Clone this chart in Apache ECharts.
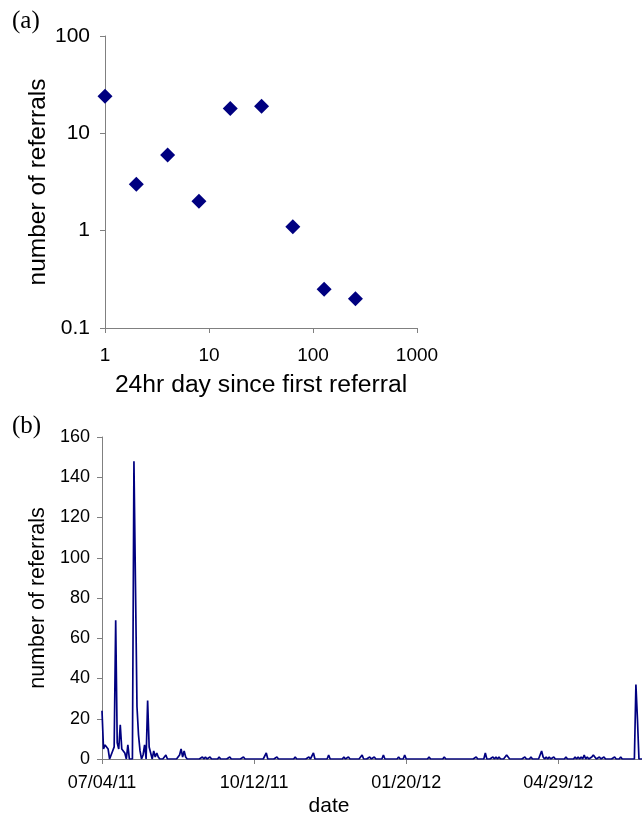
<!DOCTYPE html>
<html>
<head>
<meta charset="utf-8">
<script src="https://cdn.jsdelivr.net/npm/echarts@6/dist/echarts.min.js"></script>
<style>
html,body{margin:0;padding:0;background:#fff;}
#c{width:642px;height:818px;}
</style>
</head>
<body>
<div id="c"></div>
<script>
// (a) referrals per 24hr day since first referral (log-log)
const dayBins = [1, 2, 4, 8, 16, 32, 64, 128, 256];
const binReferrals = [24, 3, 6, 2, 18, 19, 1.1, 0.25, 0.2];

// (b) daily referrals, day 0 = 07/04/11
const dailyReferrals = [
  24,5,7,6,5,0,2,4,6,69,
  8,5,17,5,5,3,0,7,0,0,
  0,148,87,26,12,4,0,2,7,0,
  29,6,3,0,4,1,3,1,0,0,
  0,1,2,0,0,0,0,0,0,0,
  1,2,5,1,4,1,0,0,0,0,
  0,0,0,0,0,0,1,0,1,0,
  0,1,0,0,0,0,0,1,0,0,
  0,0,0,0,1,0,0,0,0,0,
  0,0,0,1,0,0,0,0,0,0,
  0,0,0,0,0,0,0,0,3,0,
  0,0,0,0,0,1,0,0,0,0,
  0,0,0,0,0,0,0,1,0,0,
  0,0,0,0,0,0,1,0,0,3,
  0,0,0,0,0,0,0,0,0,2,
  0,0,0,0,0,0,0,0,0,1,
  0,0,1,0,0,0,0,0,0,0,
  0,2,0,0,0,0,1,0,0,1,
  0,0,0,0,0,2,0,0,0,0,
  0,0,0,0,0,1,0,0,0,2,
  0,0,0,0,0,0,0,0,0,0,
  0,0,0,0,0,1,0,0,0,0,
  0,0,0,0,0,1,0,0,0,0,
  0,0,0,0,0,0,0,0,0,0,
  0,0,0,0,0,0,1,0,0,0,
  0,0,3,0,0,0,0,1,0,1,
  0,1,0,0,0,1,2,1,0,0,
  0,0,0,0,0,0,0,0,1,0,
  0,0,1,0,0,0,0,0,0,4,
  1,0,1,0,1,0,0,1,0,0,
  0,0,0,0,0,1,0,0,0,0,
  0,1,0,1,0,1,0,2,0,1,
  0,0,1,2,1,0,0,1,0,0,
  1,0,0,0,0,0,0,1,0,0,
  0,1,0,0,0,0,0,0,0,0,
  0,37,20,0,0,0
];
const dateTickLabels = ['07/04/11', '10/12/11', '01/20/12', '04/29/12'];

const FONT = "'Liberation Sans', Arial, sans-serif";
const axisGray = '#808080';
const textCol = '#000';
const navy = '#000080';

const chart = echarts.init(document.getElementById('c'), null, {renderer: 'canvas'});
chart.setOption({
  animation: false,
  backgroundColor: '#fff',
  graphic: [
    {type: 'text', left: 12, top: 9, style: {text: '(a)', font: "25px 'Liberation Serif', 'Times New Roman', serif", fill: textCol}},
    {type: 'text', left: 12, top: 414, style: {text: '(b)', font: "25px 'Liberation Serif', 'Times New Roman', serif", fill: textCol}},
    {type: 'text', x: 329, y: 806, style: {text: 'date', font: "21px " + FONT, fill: textCol, align: 'center', verticalAlign: 'middle'}}
  ],
  grid: [
    {left: 105, right: 225, top: 36, bottom: 490, containLabel: false},
    {left: 102, right: 0, top: 437, bottom: 59, containLabel: false}
  ],
  xAxis: [
    {
      gridIndex: 0, type: 'log', logBase: 10, min: 1, max: 1000,
      name: '24hr day since first referral', nameLocation: 'middle', nameGap: 45,
      nameTextStyle: {fontFamily: FONT, fontSize: 24.7, color: textCol},
      axisLine: {lineStyle: {color: axisGray, width: 1}},
      axisTick: {show: true, inside: false, length: 5, lineStyle: {color: axisGray}},
      minorTick: {show: false},
      splitLine: {show: false},
      axisLabel: {fontFamily: FONT, fontSize: 19, color: textCol, margin: 18, formatter: v => String(v)}
    },
    {
      gridIndex: 1, type: 'value', min: 0, max: 355, interval: 100,
      axisLine: {lineStyle: {color: axisGray, width: 1}},
      axisTick: {show: true, inside: false, length: 5, lineStyle: {color: axisGray}},
      splitLine: {show: false},
      axisLabel: {
        fontFamily: FONT, fontSize: 18, color: textCol, margin: 15, showMaxLabel: false,
        formatter: v => (v % 100 === 0 && dateTickLabels[v / 100]) ? dateTickLabels[v / 100] : ''
      }
    }
  ],
  yAxis: [
    {
      gridIndex: 0, type: 'log', logBase: 10, min: 0.1, max: 100,
      name: 'number of referrals', nameLocation: 'middle', nameGap: 48,
      nameTextStyle: {fontFamily: FONT, fontSize: 24.5, color: textCol},
      axisLine: {show: true, lineStyle: {color: axisGray, width: 1}},
      axisTick: {show: true, inside: false, length: 5, lineStyle: {color: axisGray}},
      minorTick: {show: false},
      splitLine: {show: false},
      axisLabel: {fontFamily: FONT, fontSize: 21, color: textCol, margin: 15, formatter: v => String(v)}
    },
    {
      gridIndex: 1, type: 'value', min: 0, max: 160, interval: 20,
      name: 'number of referrals', nameLocation: 'middle', nameGap: 47,
      nameTextStyle: {fontFamily: FONT, fontSize: 21.5, color: textCol},
      axisLine: {show: true, lineStyle: {color: axisGray, width: 1}},
      axisTick: {show: true, inside: false, length: 5, lineStyle: {color: axisGray}},
      splitLine: {show: false},
      axisLabel: {fontFamily: FONT, fontSize: 18, color: textCol, margin: 12}
    }
  ],
  series: [
    {
      type: 'scatter', xAxisIndex: 0, yAxisIndex: 0,
      symbol: 'diamond', symbolSize: 15,
      itemStyle: {color: navy, opacity: 1},
      data: dayBins.map((d, i) => [d, binReferrals[i]])
    },
    {
      type: 'line', xAxisIndex: 1, yAxisIndex: 1,
      showSymbol: false, symbol: 'none',
      lineStyle: {color: navy, width: 1.7},
      data: dailyReferrals.map((v, i) => [i, v])
    }
  ]
});
</script>
</body>
</html>
